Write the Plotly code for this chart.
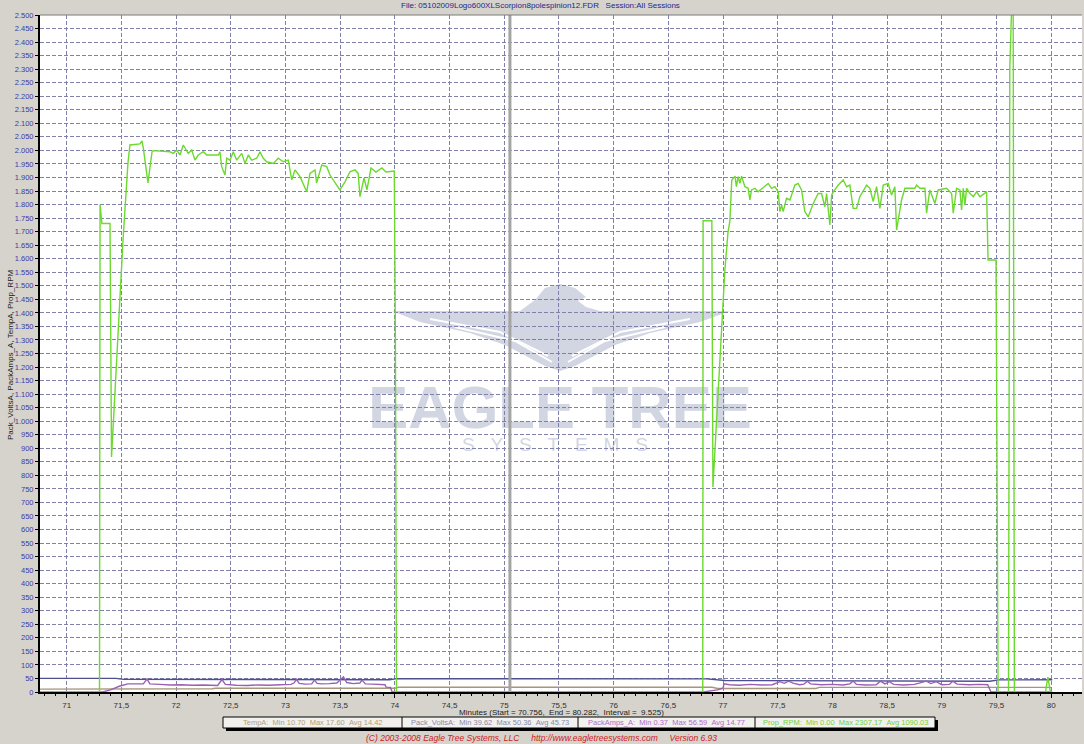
import plotly.graph_objects as go

# ---------------- data ----------------
x_start, x_end, x_interval = 70.756, 80.282, 9.525
y_max = 2500
cursor_t = 75.052

# Prop_RPM samples (minutes, rpm)
rpm_samples = [
    (70.756, 0), (71.300, 0), (71.305, 1800), (71.322, 1730), (71.396, 1730), (71.410, 868),
    (71.515, 1669), (71.560, 1953), (71.578, 2020), (71.670, 2024), (71.688, 2035), (71.700, 2010),
    (71.743, 1880), (71.780, 1994), (71.790, 1999), (71.944, 1995), (71.974, 1989), (72.005, 2001),
    (72.036, 1983), (72.066, 2020), (72.111, 1989), (72.143, 2001), (72.173, 1964), (72.203, 1983),
    (72.249, 1995), (72.280, 1983), (72.386, 1983), (72.401, 1995), (72.417, 1940), (72.447, 1909),
    (72.463, 1971), (72.493, 1964), (72.523, 1995), (72.554, 1964), (72.600, 1989), (72.630, 1952),
    (72.660, 1983), (72.691, 1964), (72.737, 1971), (72.767, 1995), (72.797, 1971), (72.828, 1958),
    (72.889, 1952), (72.934, 1971), (72.980, 1958), (73.026, 1964), (73.057, 1891), (73.087, 1928),
    (73.133, 1903), (73.194, 1847), (73.224, 1915), (73.270, 1928), (73.285, 1879), (73.331, 1946),
    (73.377, 1940), (73.407, 1909), (73.468, 1872), (73.498, 1854), (73.544, 1884), (73.590, 1921),
    (73.635, 1928), (73.665, 1915), (73.681, 1829), (73.718, 1898), (73.745, 1854), (73.782, 1935),
    (73.827, 1920), (73.882, 1935), (73.919, 1920), (73.995, 1924), (74.005, 1300), (74.015, 0),
    (76.815, 0), (76.818, 1740), (76.898, 1740), (76.908, 757), (77.017, 1558), (77.045, 1695),
    (77.063, 1740), (77.080, 1890), (77.110, 1905), (77.122, 1866), (77.139, 1903), (77.154, 1878),
    (77.170, 1905), (77.200, 1866), (77.230, 1860), (77.246, 1817), (77.261, 1854), (77.292, 1860),
    (77.322, 1847), (77.413, 1878), (77.444, 1860), (77.474, 1866), (77.505, 1847), (77.520, 1774),
    (77.536, 1798), (77.550, 1774), (77.581, 1823), (77.612, 1817), (77.657, 1872), (77.687, 1878),
    (77.718, 1854), (77.748, 1774), (77.779, 1755), (77.825, 1804), (77.870, 1841), (77.901, 1841),
    (77.931, 1792), (77.947, 1841), (77.977, 1725), (77.993, 1835), (78.008, 1847), (78.054, 1872),
    (78.099, 1891), (78.130, 1866), (78.160, 1872), (78.190, 1786), (78.221, 1786), (78.251, 1829),
    (78.313, 1872), (78.343, 1860), (78.373, 1811), (78.404, 1866), (78.434, 1786), (78.465, 1872),
    (78.510, 1878), (78.541, 1835), (78.571, 1866), (78.587, 1706), (78.632, 1817), (78.663, 1860),
    (78.754, 1860), (78.770, 1872), (78.800, 1860), (78.846, 1860), (78.861, 1768), (78.891, 1854),
    (78.937, 1804), (78.967, 1854), (79.044, 1860), (79.090, 1841), (79.105, 1768), (79.135, 1860),
    (79.166, 1854), (79.181, 1780), (79.196, 1860), (79.212, 1798), (79.227, 1860), (79.258, 1841),
    (79.288, 1829), (79.318, 1847), (79.349, 1829), (79.395, 1844), (79.410, 1847), (79.423, 1595),
    (79.496, 1595), (79.515, 0), (79.610, 0), (79.622, 2308), (79.652, 2700), (79.664, 0),
    (79.948, 0), (79.970, 55), (79.993, 0), (80.010, 0),
]

# PackAmps_A samples
amps_samples = [
    (70.756, 0), (71.330, 0), (71.400, 8), (71.487, 22), (71.560, 30), (71.650, 31), (71.700, 30),
    (71.735, 48), (71.760, 30), (71.850, 28), (71.950, 26), (72.050, 27), (72.150, 25), (72.250, 26),
    (72.380, 24), (72.420, 46), (72.450, 28), (72.550, 25), (72.650, 24), (72.750, 26), (72.850, 25),
    (72.950, 27), (73.050, 28), (73.080, 34), (73.100, 47), (73.125, 32), (73.180, 29), (73.240, 30),
    (73.265, 44), (73.290, 32), (73.330, 30), (73.400, 31), (73.470, 33), (73.530, 56), (73.560, 35),
    (73.620, 31), (73.680, 33), (73.700, 44), (73.730, 30), (73.800, 29), (73.910, 27), (73.920, 18),
    (73.960, 17), (73.975, 0), (76.820, 0), (76.950, 8), (77.000, 14), (77.010, 30), (77.060, 27),
    (77.150, 25), (77.250, 28), (77.350, 26), (77.450, 27), (77.520, 38), (77.560, 32), (77.600, 40),
    (77.640, 33), (77.700, 27), (77.740, 29), (77.770, 40), (77.800, 30), (77.900, 27), (78.000, 28),
    (78.100, 26), (78.160, 30), (78.190, 41), (78.220, 28), (78.300, 26), (78.400, 27), (78.440, 40),
    (78.480, 30), (78.520, 38), (78.560, 28), (78.650, 26), (78.750, 28), (78.860, 40), (78.900, 31),
    (78.950, 38), (79.000, 27), (79.070, 28), (79.100, 40), (79.140, 29), (79.250, 27), (79.350, 28),
    (79.420, 27), (79.450, 0), (80.010, 0),
]

# Pack_VoltsA samples
volts_samples = [
    (70.756, 50.3), (71.45, 50.3), (71.52, 46.8), (73.95, 45.5), (74.02, 49.2), (76.85, 48.6),
    (77.02, 42.5), (79.44, 39.6), (79.52, 44.8), (80.01, 45.2),
]

# TempA samples
temp_samples = [
    (70.756, 10.7), (71.45, 10.7), (71.50, 11.8), (72.33, 11.8), (72.36, 13.6), (74.00, 13.6),
    (74.03, 17.3), (76.90, 17.3), (76.95, 12.8), (77.85, 12.8), (77.88, 17.1), (80.00, 17.1),
]

series_names = ["TempA", "Pack_VoltsA", "PackAmps_A", "Prop_RPM"]
stat_min = [10.70, 39.62, 0.37, 0.00]
stat_max = [17.60, 50.36, 56.59, 2307.17]
stat_avg = [14.42, 45.73, 14.77, 1090.03]

title_text = "File: 05102009Logo600XLScorpion8polespinion12.FDR   Session:All Sessions"
y_title = "Pack_VoltsA, PackAmps_A, TempA, Prop_RPM"
copyright_text = ("(C) 2003-2008 Eagle Tree Systems, LLC     "
                  "http://www.eagletreesystems.com     Version 6.93")

# ---------------- styling / geometry ----------------
W, H = 1084, 744
L, R, T, B = 40, 2, 15, 52
FONT = "Liberation Sans, Arial, sans-serif"
NB = "\u00a0"

col_temp = "#a8957a"
col_volts = "#4f4f8f"
col_amps = "#9b5fb5"
col_rpm = "#6cd92e"
legend_cols = ["#b0a078", "#8888a8", "#b06cc8", "#72d040"]


def px(X):  # pixel x -> paper
    return (X - L) / (W - L - R)


def py(Y):  # pixel y -> paper
    return (H - B - Y) / (H - T - B)


def dxp(X):  # pixel x -> data x
    return x_start + px(X) * (x_end - x_start)


def dyp(Y):  # pixel y -> data y
    return py(Y) * y_max


def sp(s):
    return s.replace(" ", NB)


fig = go.Figure()
for samples, col, name in [(volts_samples, col_volts, "Pack_VoltsA"),
                           (temp_samples, col_temp, "TempA"),
                           (amps_samples, col_amps, "PackAmps_A"),
                           (rpm_samples, col_rpm, "Prop_RPM")]:
    fig.add_trace(go.Scatter(
        x=[p[0] for p in samples], y=[p[1] for p in samples],
        mode="lines", name=name, line=dict(color=col, width=1.4),
        hoverinfo="skip"))

shapes = []
wm_col = "#d2d5e2"
# watermark eagle
eagle_pts = [(392, 311), (520, 311), (535, 300), (545, 288), (560, 284), (575, 288), (586, 297),
             (578, 301), (586, 307), (600, 311), (730, 311), (700, 322), (650, 333), (615, 345),
             (575, 366), (560, 371), (545, 366), (505, 345), (470, 333), (420, 322)]
path = "M " + " L ".join(f"{dxp(a):.4f},{dyp(b):.2f}" for a, b in eagle_pts) + " Z"
shapes.append(dict(type="path", xref="x", yref="y", path=path, layer="below",
                   fillcolor=wm_col, line=dict(width=0)))
for pts in [[(430, 319), (500, 332), (548, 356)], [(455, 327), (515, 341), (552, 362)],
            [(690, 319), (620, 332), (572, 356)], [(665, 327), (605, 341), (568, 362)]]:
    p2 = "M " + " L ".join(f"{dxp(a):.4f},{dyp(b):.2f}" for a, b in pts)
    shapes.append(dict(type="path", xref="x", yref="y", path=p2, layer="below",
                       line=dict(color="white", width=2)))
# watermark text
shapes.append(dict(type="rect", xref="x", yref="y", x0=dxp(360), x1=dxp(760), y0=dyp(425), y1=dyp(377),
                   layer="below", line=dict(width=0), fillcolor="rgba(0,0,0,0)",
                   label=dict(text="EAGLE TREE", textposition="middle center",
                              font=dict(family="Liberation Sans", size=60, color=wm_col, weight="bold"))))
shapes.append(dict(type="rect", xref="x", yref="y", x0=dxp(470), x1=dxp(640), y0=dyp(452), y1=dyp(433),
                   layer="below", line=dict(width=0), fillcolor="rgba(0,0,0,0)",
                   label=dict(text=(NB * 3).join("SYSTEMS"), textposition="middle center",
                              font=dict(family="Liberation Sans", size=19, color=wm_col))))
# cursor line
shapes.append(dict(type="line", xref="x", yref="paper", x0=cursor_t, x1=cursor_t, y0=0, y1=1,
                   layer="above", line=dict(color="#a4a4a4", width=3)))
# top border
shapes.append(dict(type="line", xref="paper", yref="paper", x0=0, x1=1, y0=1, y1=1,
                   line=dict(color="#7a7a7a", width=1)))
# legend box with shadow
cells = [223, 402, 578, 755, 935]
shapes.append(dict(type="rect", xref="paper", yref="paper", x0=px(cells[0] + 3), x1=px(cells[-1] + 3),
                   y0=py(731), y1=py(720), fillcolor="black", line=dict(width=0)))
shapes.append(dict(type="rect", xref="paper", yref="paper", x0=px(cells[0]), x1=px(cells[-1]),
                   y0=py(728), y1=py(717), fillcolor="#f2f1ee", line=dict(color="black", width=1)))
for c in cells[1:-1]:
    shapes.append(dict(type="line", xref="paper", yref="paper", x0=px(c), x1=px(c),
                       y0=py(728), y1=py(717), line=dict(color="black", width=1)))

annotations = []
annotations.append(dict(text=sp(title_text), xref="paper", yref="paper", x=px(540), y=py(6),
                        showarrow=False, xanchor="center", yanchor="middle",
                        font=dict(family=FONT, size=8, color="#25258a")))
annotations.append(dict(text=sp(f"Minutes (Start = {x_start:.3f},  End = {x_end:.3f},  Interval =  {x_interval:.3f})"),
                        xref="paper", yref="paper", x=px(561), y=py(712), showarrow=False,
                        xanchor="center", yanchor="middle", font=dict(family=FONT, size=8, color="#202020")))
annotations.append(dict(text=y_title, xref="paper", yref="paper", x=px(10), y=py(355), showarrow=False,
                        textangle=-90, xanchor="center", yanchor="middle",
                        font=dict(family=FONT, size=8, color="#202020")))
for i, name in enumerate(series_names):
    txt = f"{name}:  Min {stat_min[i]:.2f}  Max {stat_max[i]:.2f}  Avg {stat_avg[i]:.2f}"
    annotations.append(dict(text=sp(txt), xref="paper", yref="paper",
                            x=px((cells[i] + cells[i + 1]) / 2), y=py(722.8), showarrow=False,
                            xanchor="center", yanchor="middle",
                            font=dict(family=FONT, size=7.5, color=legend_cols[i])))
annotations.append(dict(text=sp(copyright_text), xref="paper", yref="paper", x=px(541), y=py(737.5),
                        showarrow=False, xanchor="center", yanchor="middle",
                        font=dict(family=FONT, size=8.5, color="#cc2222", style="italic")))

grid_col = "#8080aa"
fig.update_layout(
    width=W, height=H, margin=dict(l=L, r=R, t=T, b=B),
    paper_bgcolor="#d6d3cd", plot_bgcolor="white", showlegend=False,
    separators=",.", font=dict(family=FONT, size=8),
    shapes=shapes, annotations=annotations,
    xaxis=dict(range=[x_start, x_end], tickmode="linear", tick0=71, dtick=0.5,
               showgrid=True, gridcolor=grid_col, gridwidth=1, griddash="4px,2px",
               zeroline=False, showline=True, linecolor="black", linewidth=2,
               ticks="outside", ticklen=4, tickcolor="black",
               minor=dict(dtick=0.1, ticks="outside", ticklen=2, tickcolor="black", showgrid=False),
               tickfont=dict(family=FONT, size=8, color="#303030")),
    yaxis=dict(range=[0, y_max], tickmode="linear", tick0=0, dtick=50, tickformat=",d",
               showgrid=True, gridcolor=grid_col, gridwidth=1, griddash="4px,2px",
               zeroline=False, showline=True, linecolor="black", linewidth=2,
               ticks="outside", ticklen=3, tickcolor="black",
               tickfont=dict(family=FONT, size=7.5, color="#3a3aa8")),
)

fig.write_html("out.html", config={"displayModeBar": False},
               post_script="document.body.style.margin='0px';document.body.style.overflow='hidden';")
